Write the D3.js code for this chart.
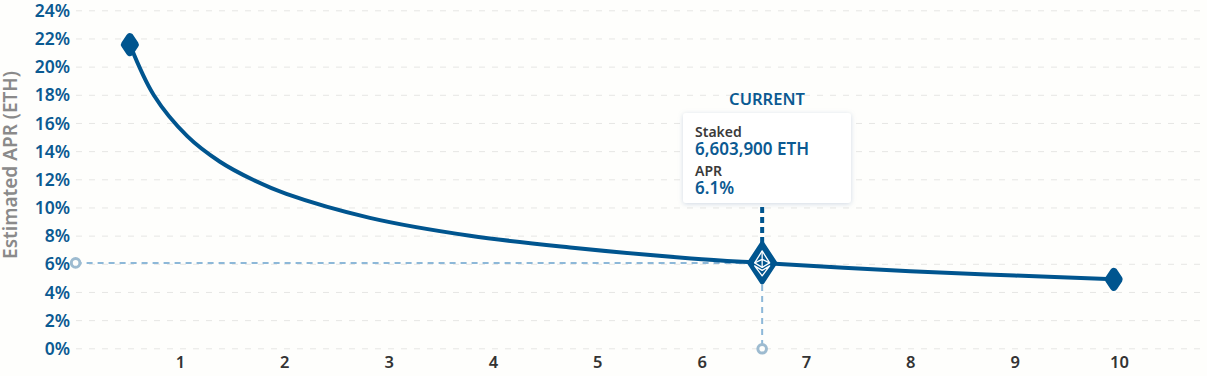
<!DOCTYPE html>
<html>
<head>
<meta charset="utf-8">
<script src="https://cdn.jsdelivr.net/npm/d3@7"></script>
<style>
    html, body { margin: 0; padding: 0; background: #fefefc; overflow: hidden; }
    text { font-family: "Noto Sans", "Open Sans", sans-serif; }
    .y-axis text { font-size: 17.5px; font-weight: 600; fill: #0b5a92; }
    .x-axis text { font-size: 16.5px; font-weight: 600; fill: #333; }
</style>
</head>
<body>
<div id="chart"></div>
<script>
// Data
const stakedMillions = [0.52, 0.75, 1.07, 1.38, 1.7, 2.02, 2.82, 3.78, 4.74, 5.9, 6.58, 8, 9, 9.95];
const aprValues = [21.6, 18.0, 15.1, 13.3, 12.0, 11.0, 9.3, 8.03, 7.2, 6.42, 6.1, 5.5, 5.2, 4.93];
const xTicks = [1, 2, 3, 4, 5, 6, 7, 8, 9, 10];
const yTicks = [0, 2, 4, 6, 8, 10, 12, 14, 16, 18, 20, 22, 24];
const currentStaked = 6.58;
const currentApr = 6.1;
const currentStakedLabel = "6,603,900 ETH";
const currentAprLabel = "6.1%";

const chartWidth = 1207;
const chartHeight = 376;
const blue = "#00558f";
const lightBlue = "#8db8d8";

const svg = d3.select("#chart")
    .append("svg")
    .attr("width", chartWidth)
    .attr("height", chartHeight)
    .style("display", "block");

const defs = svg.append("defs");
const shadow = defs.append("filter").attr("id", "boxShadow")
    .attr("x", "-10%").attr("y", "-10%").attr("width", "120%").attr("height", "125%");
shadow.append("feDropShadow")
    .attr("dx", 0).attr("dy", 1).attr("stdDeviation", 2.5)
    .attr("flood-color", "#8aa0c0").attr("flood-opacity", 0.4);

// Scales
const x = d3.scaleLinear().domain([0, 10]).range([75.6, 1119]);
const y = d3.scaleLinear().domain([0, 24]).range([348.8, 10.8]);

// Axes
const yAxis = svg.append("g")
    .attr("class", "y-axis")
    .attr("transform", "translate(75.5,0)")
    .call(d3.axisLeft(y).tickValues(yTicks).tickFormat(d => d + "%").tickSize(0).tickPadding(5.5));
yAxis.select(".domain").remove();

const xAxis = svg.append("g")
    .attr("class", "x-axis")
    .attr("transform", "translate(0,348.8)")
    .call(d3.axisBottom(x).tickValues(xTicks).tickFormat(d3.format("d")).tickSize(0).tickPadding(7));
xAxis.select(".domain").remove();

// Grid
svg.append("g").selectAll("line")
    .data(yTicks)
    .join("line")
    .attr("x1", 76)
    .attr("x2", 1203)
    .attr("y1", d => y(d))
    .attr("y2", d => y(d))
    .attr("stroke", "#e6e6e4")
    .attr("stroke-dasharray", "6 7");

// Axis title
svg.append("text")
    .attr("transform", `translate(17,165) rotate(-90)`)
    .attr("text-anchor", "middle")
    .attr("font-size", 19)
    .attr("font-weight", 600)
    .attr("fill", "#8a8a8a")
    .text("Estimated APR (ETH)");

// Guide lines to the axes
const cx = x(currentStaked);
const cy = y(currentApr);
svg.append("line")
    .attr("x1", x(0)).attr("x2", cx).attr("y1", cy).attr("y2", cy)
    .attr("stroke", lightBlue).attr("stroke-width", 2).attr("stroke-dasharray", "6 5");
svg.append("line")
    .attr("x1", cx).attr("x2", cx).attr("y1", cy).attr("y2", y(0))
    .attr("stroke", lightBlue).attr("stroke-width", 2).attr("stroke-dasharray", "6 5");
svg.selectAll(".guide-end")
    .data([[0, currentApr], [currentStaked, 0]])
    .join("circle")
    .attr("class", "guide-end")
    .attr("cx", d => x(d[0]))
    .attr("cy", d => y(d[1]))
    .attr("r", 4.3)
    .attr("fill", "#fefefc")
    .attr("stroke", "#9dbbd0")
    .attr("stroke-width", 3);

// Curve
const line = d3.line()
    .x((d, i) => x(stakedMillions[i]))
    .y(d => y(d))
    .curve(d3.curveCatmullRom.alpha(0.5));
svg.append("path")
    .attr("d", line(aprValues))
    .attr("fill", "none")
    .attr("stroke", blue)
    .attr("stroke-width", 4);

// Diamonds
const diamond = (rx, ry) => `M0,${-ry}L${rx},0L0,${ry}L${-rx},0Z`;
const last = stakedMillions.length - 1;
svg.selectAll(".end-marker")
    .data([0, last])
    .join("path")
    .attr("class", "end-marker")
    .attr("transform", i => `translate(${x(stakedMillions[i])},${y(aprValues[i])})`)
    .attr("d", diamond(5, 7.5))
    .attr("fill", blue)
    .attr("stroke", blue)
    .attr("stroke-width", 8)
    .attr("stroke-linejoin", "round");

// Stem from marker up to the tooltip
svg.append("line")
    .attr("x1", cx).attr("x2", cx).attr("y1", cy).attr("y2", 204)
    .attr("stroke", blue).attr("stroke-width", 4).attr("stroke-dasharray", "6 4");

// Current marker with the eth glyph
const marker = svg.append("g").attr("transform", `translate(${cx},${cy})`);
marker.append("path")
    .attr("d", diamond(12.5, 19))
    .attr("fill", blue)
    .attr("stroke", blue)
    .attr("stroke-width", 5)
    .attr("stroke-linejoin", "round");
const glyph = marker.append("g")
    .attr("fill", "none")
    .attr("stroke", "#fff")
    .attr("stroke-width", 1.3)
    .attr("stroke-linejoin", "round");
glyph.append("path").attr("d", "M0,-12L-7.5,0L0,4.5L7.5,0Z");
glyph.append("path").attr("d", "M-7.5,0L0,-3.5L7.5,0M0,-12V4.5");
glyph.append("path").attr("d", "M-7.5,3L0,7.5L7.5,3L0,13Z");

// Tooltip
const tip = svg.append("g").attr("transform", "translate(683,113)");
tip.append("rect")
    .attr("width", 168)
    .attr("height", 90)
    .attr("rx", 3)
    .attr("fill", "#fff")
    .attr("filter", "url(#boxShadow)");
tip.append("text").attr("x", 84).attr("y", -8)
    .attr("text-anchor", "middle")
    .attr("font-size", 16.5).attr("font-weight", 600).attr("fill", "#0b5a92")
    .text("CURRENT");
tip.append("text").attr("x", 12).attr("y", 23.5)
    .attr("font-size", 14).attr("font-weight", 600).attr("fill", "#3a3a3a")
    .text("Staked");
tip.append("text").attr("x", 12).attr("y", 41.5)
    .attr("font-size", 17).attr("font-weight", 600).attr("fill", "#0b5a92")
    .text(currentStakedLabel);
tip.append("text").attr("x", 12).attr("y", 62.5)
    .attr("font-size", 14).attr("font-weight", 600).attr("fill", "#3a3a3a")
    .text("APR");
tip.append("text").attr("x", 12).attr("y", 80.5)
    .attr("font-size", 17).attr("font-weight", 600).attr("fill", "#0b5a92")
    .text(currentAprLabel);
</script>
</body>
</html>
